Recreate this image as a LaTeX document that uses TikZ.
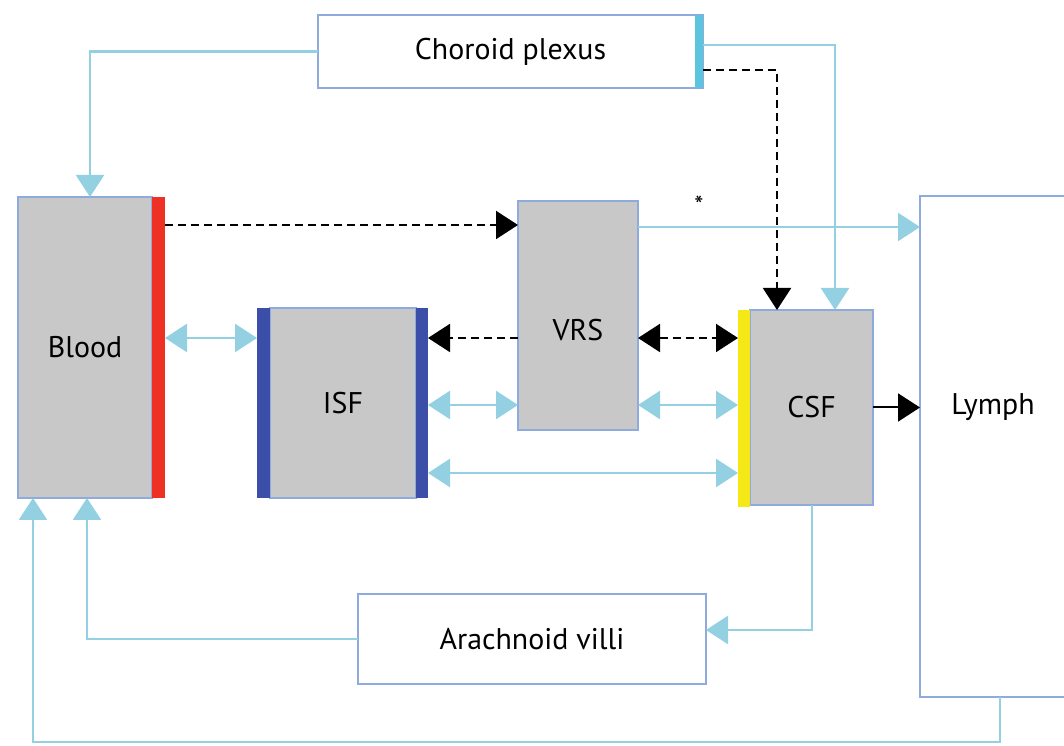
\documentclass[tikz,border=0pt]{standalone}
\usepackage{fontspec}
\setmainfont{PT Sans}
\usepackage{xcolor}
\usetikzlibrary{arrows.meta,positioning}

\definecolor{edgeblue}{HTML}{8FAADC}
\definecolor{cellgray}{HTML}{C8C8C8}
\definecolor{flowblue}{HTML}{92D0E2}
\definecolor{wallred}{HTML}{EE3124}
\definecolor{wallblue}{HTML}{3B4FA8}
\definecolor{wallyellow}{HTML}{F5E817}
\definecolor{wallcyan}{HTML}{5BC5DE}

\begin{document}
\begin{tikzpicture}[x=1bp,y=1bp,>={Triangle[length=22bp,width=28bp]},
	every node/.style={inner sep=0pt,outer sep=0pt,font=\fontsize{30}{36}\selectfont},
	compartment/.style={draw=edgeblue,line width=1.5bp,fill=cellgray},
	plainbox/.style={draw=edgeblue,line width=1.5bp,fill=white},
	wall/.style={minimum width=13bp},
	flow/.style={draw=flowblue,line width=2.5bp,->},
	leak/.style={draw=black,line width=2bp,dash pattern=on 8bp off 5bp,->},
	drain/.style={draw=black,line width=2bp,->}]
	\clip (0,0) rectangle (1064,746);

	\node (plexus) [plainbox, minimum width=385bp, minimum height=73bp] at (510.5,694.5) {Choroid plexus};
	\node (plexuswall) [wall, fill=wallcyan, minimum width=8bp, minimum height=73bp, anchor=east] at (plexus.east) {};
	\node (blood) [compartment, minimum width=134bp, minimum height=301bp] at (85,398.5) {Blood};
	\node (bloodwall) [wall, fill=wallred, minimum height=301bp, anchor=west] at (blood.east) {};
	\node (isf) [compartment, minimum width=146bp, minimum height=190bp] at (343,343) {ISF};
	\node (isfinner) [wall, fill=wallblue, minimum height=190bp, anchor=east] at (isf.west) {};
	\node (isfouter) [wall, fill=wallblue, minimum width=12bp, minimum height=190bp, anchor=west] at (isf.east) {};
	\node (vrs) [compartment, minimum width=120bp, minimum height=229bp, label={[yshift=-14.5bp]center:VRS}] at (578,430.5) {};
	\node (csf) [compartment, minimum width=123bp, minimum height=195bp] at (811.5,338.5) {CSF};
	\node (csfwall) [wall, fill=wallyellow, minimum width=12bp, minimum height=197bp, anchor=north east] at (csf.north west) {};
	\node (lymph) [plainbox, minimum width=146bp, minimum height=501bp, label={[yshift=39.5bp]center:Lymph}] at (993,299.5) {};
	\node (villi) [plainbox, minimum width=348bp, minimum height=90bp] at (532,107) {Arachnoid villi};
	\node (star) [font=\fontsize{26}{30}\selectfont] at (699,541) {*};

	% choroid plexus outputs
	\draw [flow] (plexus.west) -| ([xshift=5bp]blood.north);
	\draw [flow] (plexuswall.east |- 0,701) -| (csf.north -| 835,0);
	\draw [leak] (plexuswall.east |- 0,676) -| (csf.north -| 777,0);

	% exchange between compartments
	\draw [leak] (bloodwall.east |- 0,521) -- (vrs.west |- 0,521);
	\draw [flow] (vrs.east |- 0,519) -- (lymph.west |- 0,519);
	\draw [flow,<->] (bloodwall.east |- 0,408) -- (isfinner.west |- 0,408);
	\draw [leak] (vrs.west |- 0,408) -- (isfouter.east |- 0,408);
	\draw [leak,<->] (vrs.east |- 0,408) -- (csfwall.west |- 0,408);
	\draw [flow,<->] (isfouter.east |- 0,341) -- (vrs.west |- 0,341);
	\draw [flow,<->] (vrs.east |- 0,341) -- (csfwall.west |- 0,341);
	\draw [flow,<->] (isfouter.east |- 0,273) -- (csfwall.west |- 0,273);
	\draw [drain] (csf.east) -- (lymph.west |- csf.east);

	% return to blood
	\draw [flow] (csf.south -| 812,0) |- (villi.east |- 0,116);
	\draw [flow] (villi.west) -| (blood.south -| 87,0);
	\draw [flow] (lymph.south -| 1000,0) -- ++(0,-45) -| (blood.south -| 33,0);
\end{tikzpicture}
\end{document}
